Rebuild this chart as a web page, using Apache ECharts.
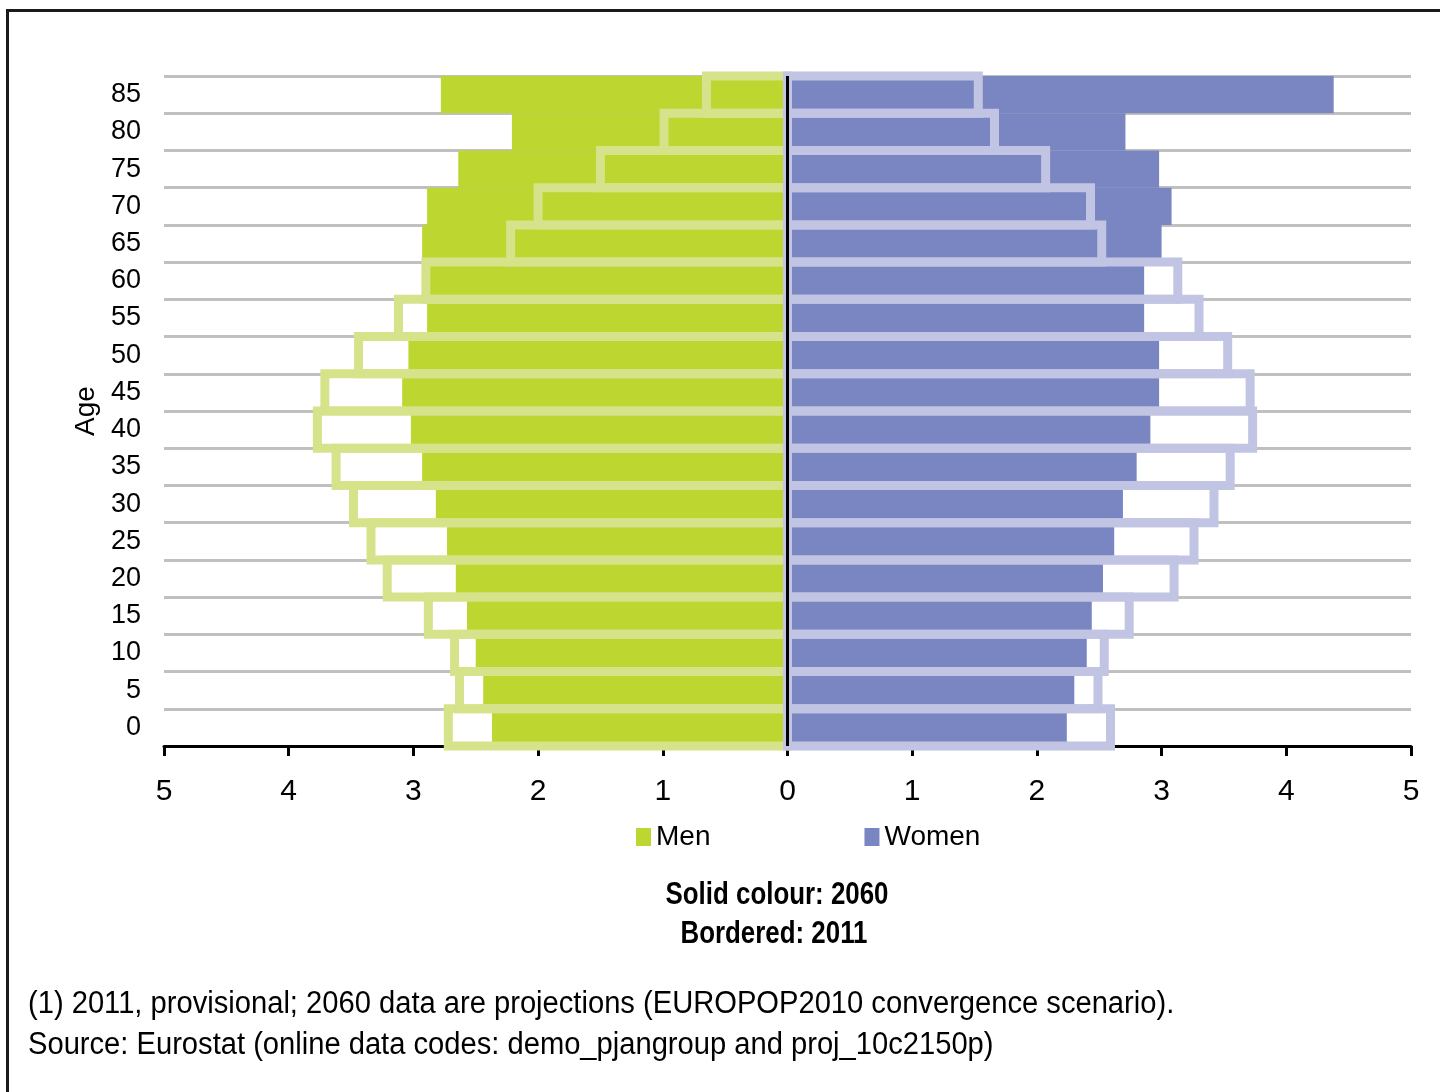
<!DOCTYPE html>
<html>
<head>
<meta charset="utf-8">
<title>Population pyramid</title>
<script src="https://cdn.jsdelivr.net/npm/echarts@6/dist/echarts.min.js"></script>
<style>
  html, body { margin: 0; padding: 0; background: #ffffff; }
  #chart { width: 1440px; height: 1092px; }
</style>
</head>
<body>
<div id="chart"></div>
<script>
// Age groups, youngest at the bottom
const ages = ['0', '5', '10', '15', '20', '25', '30', '35', '40', '45', '50', '55', '60', '65', '70', '75', '80', '85'];

// Share of total population (%), 2060 projections (solid bars)
const men2060 = [2.37, 2.44, 2.50, 2.57, 2.66, 2.73, 2.82, 2.93, 3.02, 3.09, 3.04, 2.89, 2.88, 2.93, 2.89, 2.64, 2.21, 2.78];
const women2060 = [2.24, 2.30, 2.40, 2.44, 2.53, 2.62, 2.69, 2.80, 2.91, 2.98, 2.98, 2.86, 2.86, 3.00, 3.08, 2.98, 2.71, 4.38];

// Share of total population (%), 2011 (bordered bars)
const men2011 = [2.72, 2.63, 2.67, 2.88, 3.21, 3.34, 3.48, 3.62, 3.77, 3.71, 3.44, 3.12, 2.90, 2.22, 2.00, 1.50, 0.99, 0.65];
const women2011 = [2.59, 2.49, 2.54, 2.74, 3.10, 3.26, 3.42, 3.55, 3.73, 3.71, 3.53, 3.30, 3.13, 2.52, 2.43, 2.07, 1.66, 1.53];

const FONT = '"Liberation Sans", Arial, sans-serif';
const GREEN = '#bdd630';
const GREEN_LIGHT = '#d6e38a';
const PURPLE = '#7a86c1';
const PURPLE_LIGHT = '#c1c4e2';

const chart = echarts.init(document.getElementById('chart'), null, { renderer: 'canvas' });

// 2011 values: hollow frames whose stroke is centred on the bar edges
const outlineSeries = (name, values, sign, color, z) => ({
  name: name,
  type: 'custom',
  silent: true,
  z: z,
  data: values.map((v, i) => [sign * v, i]),
  encode: { x: 0, y: 1 },
  renderItem: (params, api) => {
    const idx = api.value(1);
    const p0 = api.coord([0, idx]);
    const p1 = api.coord([api.value(0), idx]);
    const band = api.size([0, 1])[1];
    return {
      type: 'rect',
      shape: {
        x: Math.min(p0[0], p1[0]),
        y: p0[1] - band / 2,
        width: Math.abs(p1[0] - p0[0]),
        height: band
      },
      style: { fill: 'none', stroke: color, lineWidth: 9 }
    };
  }
});

chart.setOption({
  animation: false,
  backgroundColor: '#ffffff',
  textStyle: { fontFamily: FONT },
  grid: { left: 164, top: 76, width: 1247, height: 670, containLabel: false },
  legend: {
    data: ['Men', 'Women'],
    left: 636,
    top: 823,
    padding: 0,
    icon: 'rect',
    itemWidth: 15,
    itemHeight: 18,
    itemGap: 154,
    selectedMode: false,
    textStyle: { fontFamily: FONT, fontSize: 28, color: '#000' }
  },
  xAxis: {
    type: 'value',
    min: -5,
    max: 5,
    interval: 1,
    axisLine: { show: true, lineStyle: { color: '#000', width: 3 } },
    axisTick: { show: true, length: 10, lineStyle: { color: '#000', width: 3 } },
    splitLine: { show: false },
    axisLabel: {
      margin: 31,
      fontFamily: FONT,
      fontSize: 30,
      color: '#000',
      formatter: v => String(Math.abs(v))
    }
  },
  yAxis: {
    type: 'category',
    data: ages,
    name: 'Age',
    nameLocation: 'middle',
    nameRotate: 90,
    nameGap: 56,
    nameTextStyle: { fontFamily: FONT, fontSize: 28, color: '#000' },
    axisLine: { show: false },
    axisTick: { show: false },
    splitLine: { show: true, lineStyle: { color: '#c0c0c0', width: 3 } },
    axisLabel: { interval: 0, margin: 23, fontFamily: FONT, fontSize: 27, color: '#000' }
  },
  series: [
    {
      name: 'Men',
      type: 'bar',
      z: 2,
      data: men2060.map(v => -v),
      barGap: '-100%',
      barCategoryGap: '0%',
      itemStyle: { color: GREEN },
      silent: true
    },
    {
      name: 'Women',
      type: 'bar',
      z: 2,
      data: women2060,
      barGap: '-100%',
      barCategoryGap: '0%',
      itemStyle: { color: PURPLE },
      silent: true
    },
    outlineSeries('Men 2011', men2011, -1, GREEN_LIGHT, 3),
    Object.assign(outlineSeries('Women 2011', women2011, 1, PURPLE_LIGHT, 4), {
      markLine: {
        silent: true,
        z: 10,
        symbol: 'none',
        label: { show: false },
        lineStyle: { color: '#000', width: 3, type: 'solid' },
        data: [{ xAxis: 0 }]
      }
    })
  ],
  graphic: [
    {
      type: 'rect',
      shape: { x: 7.5, y: 10.5, width: 1450, height: 1100 },
      style: { fill: 'none', stroke: '#1a1a1a', lineWidth: 3 },
      silent: true
    },
    {
      type: 'text',
      x: 777, y: 895, scaleX: 0.835,
      style: { text: 'Solid colour: 2060', font: 'bold 31px ' + FONT, fill: '#000', textAlign: 'center', textVerticalAlign: 'middle' }
    },
    {
      type: 'text',
      x: 774, y: 934, scaleX: 0.835,
      style: { text: 'Bordered: 2011', font: 'bold 31px ' + FONT, fill: '#000', textAlign: 'center', textVerticalAlign: 'middle' }
    },
    {
      type: 'text',
      x: 28, y: 1004, scaleX: 0.94,
      style: { text: '(1) 2011, provisional; 2060 data are projections (EUROPOP2010 convergence scenario).', font: '31px ' + FONT, fill: '#000', textAlign: 'left', textVerticalAlign: 'middle' }
    },
    {
      type: 'text',
      x: 28, y: 1045, scaleX: 0.94,
      style: { text: 'Source: Eurostat (online data codes: demo_pjangroup and proj_10c2150p)', font: '31px ' + FONT, fill: '#000', textAlign: 'left', textVerticalAlign: 'middle' }
    }
  ]
});
</script>
</body>
</html>
